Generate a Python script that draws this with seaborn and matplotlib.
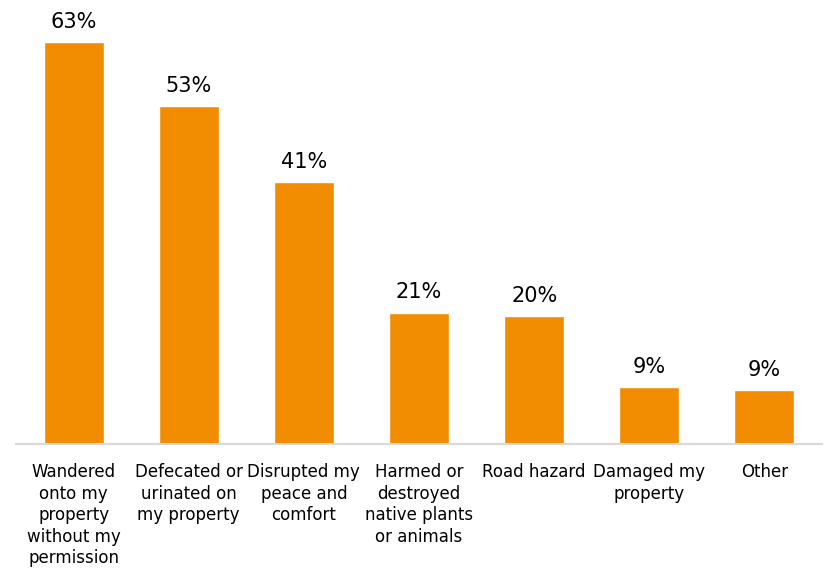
import seaborn as sns
import pandas as pd
import matplotlib.pyplot as plt

categories = ['Wandered\nonto my\nproperty\nwithout my\npermission',
              'Defecated or\nurinated on\nmy property',
              'Disrupted my\npeace and\ncomfort',
              'Harmed or\ndestroyed\nnative plants\nor animals',
              'Road hazard',
              'Damaged my\nproperty',
              'Other']
shares = [63.0, 53.0, 41.0, 20.6, 20.0, 8.9, 8.5]
labels = ['63%', '53%', '41%', '21%', '20%', '9%', '9%']

df = pd.DataFrame({'reason': categories, 'share': shares})

sns.set_style('white')
plt.rcParams['font.family'] = ['DejaVu Sans']

fig = plt.figure(figsize=(8.25, 5.70), dpi=100)
ax = fig.add_axes([16 / 825, 1 - 444 / 570, 806 / 825, 444 / 570])

sns.barplot(data=df, x='reason', y='share', color='#F28C00', saturation=1,
            width=0.52, ax=ax)

for i, txt in enumerate(labels):
    ax.text(i, shares[i] + 1.6, txt, ha='center', va='bottom', fontsize=15,
            color='black')

ax.set_ylim(0, 69.6)
ax.set_xlim(-0.5, len(categories) - 0.5)
ax.set_xlabel('')
ax.set_ylabel('')
ax.set_yticks([])
ax.tick_params(axis='x', length=0, pad=14, labelsize=12, labelcolor='black')
plt.setp(ax.get_xticklabels(), linespacing=1.25)
for s in ['top', 'right', 'left']:
    ax.spines[s].set_visible(False)
ax.spines['bottom'].set_color('#d9d9d9')
ax.spines['bottom'].set_linewidth(1.5)

fig.savefig('out.png', dpi=100)
